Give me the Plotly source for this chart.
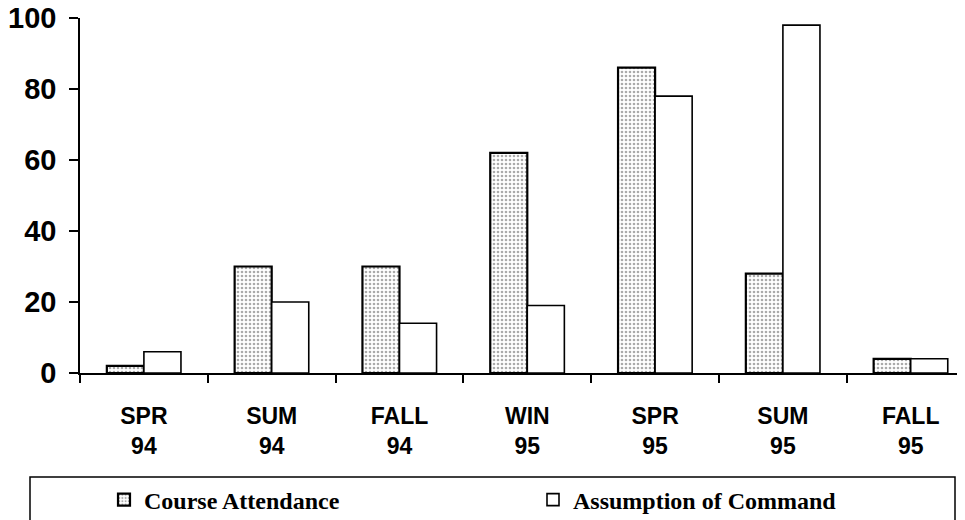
import plotly.graph_objects as go

terms = ["SPR<br>94", "SUM<br>94", "FALL<br>94", "WIN<br>95", "SPR<br>95", "SUM<br>95", "FALL<br>95"]
course_attendance = [2, 30, 30, 62, 86, 28, 4]
assumption_of_command = [6, 20, 14, 19, 78, 98, 4]
y_ticks = [0, 20, 40, 60, 80, 100]

# page body has an 8px offset; plot area on screen spans x 80..965, y 18..373
W, H = 965, 520
OFF = 8
X0, X1, Y0, Y1 = 80, 965, 18, 373
L, R, T, B = X0 - OFF, W - (X1 - OFF), Y0 - OFF, H - (Y1 - OFF)
pw, ph = X1 - X0, Y1 - Y0

def px(x):
    return (x - X0) / pw

def py(y):
    return (Y1 - y) / ph

fig = go.Figure()
fig.add_trace(go.Bar(
    x=terms, y=course_attendance, name="Course Attendance",
    marker=dict(color="white", line=dict(color="black", width=2.2),
                pattern=dict(shape=".", fgcolor="#555555", bgcolor="white", size=4, solidity=0.35)),
))
fig.add_trace(go.Bar(
    x=terms, y=assumption_of_command, name="Assumption of Command",
    marker=dict(color="white", line=dict(color="black", width=1.6)),
))

fig.update_layout(
    width=W, height=H,
    margin=dict(l=L, r=R, t=T, b=B, autoexpand=False),
    paper_bgcolor="white", plot_bgcolor="white",
    barmode="group", bargap=0.42, bargroupgap=0,
    showlegend=True,
    legend=dict(orientation="h", x=px(104), xanchor="left", y=py(500), yanchor="middle",
                entrywidth=384, entrywidthmode="pixels", bgcolor="rgba(0,0,0,0)",
                font=dict(family="Liberation Serif", size=24, color="black", weight="bold"),
                traceorder="normal"),
    xaxis=dict(range=[-0.5, -0.5 + pw / 127.8], showline=True, linecolor="black", linewidth=1.5,
               ticks="outside", tickson="boundaries", ticklen=8, tickcolor="black", tickwidth=1.5,
               showgrid=False, zeroline=False, fixedrange=True,
               tickfont=dict(family="Liberation Sans", size=23, color="black", weight="bold"),
               ticklabelstandoff=22),
    yaxis=dict(range=[0, 100], tickvals=y_ticks, showline=True, linecolor="black", linewidth=1.5,
               ticks="outside", ticklen=9, tickcolor="black", tickwidth=1.5,
               showgrid=False, zeroline=False, fixedrange=True, ticklabeloverflow="allow",
               tickfont=dict(family="Liberation Sans", size=29, color="black", weight="bold"),
               ticklabelstandoff=7),
    shapes=[dict(type="rect", xref="paper", yref="paper",
                 x0=px(30), x1=px(955), y0=py(477), y1=py(540),
                 line=dict(color="black", width=1.5), fillcolor="rgba(0,0,0,0)", layer="above")],
)

fig.write_html("out.html")
